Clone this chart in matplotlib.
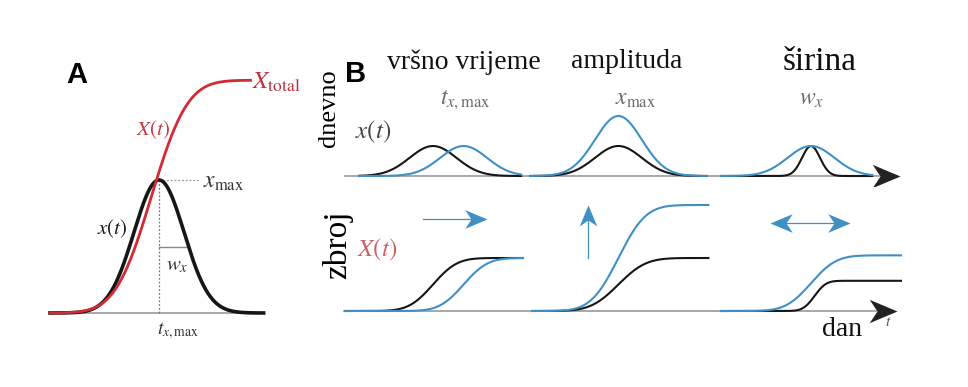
import numpy as np
import matplotlib
matplotlib.use("Agg")
import matplotlib.pyplot as plt
from matplotlib.path import Path

plt.rcParams['mathtext.fontset'] = 'stix'
plt.rcParams['font.family'] = ['Liberation Serif', 'DejaVu Serif']

# ---- data (time in days, heights in units of the black peak) ----
# panel A
a_peak_t = 50.0
a_sigma = 11.5
a_peak = 1.0
a_cum_mid = 46.5
a_cum_sigma = 13.0
a_total = 1.75
a_t_end = 98.0
a_red_end = 92.0

# panel B: columns = peak time, amplitude, width
col_names = ['vršno vrijeme', 'amplituda', 'širina']
col_symbols = [r'$t_{x,\mathrm{max}}$', r'$x_{\mathrm{max}}$', r'$w_x$']
col_offset = [0.0, 103.0, 210.0]

# daily curves x(t): black reference and blue changed curve
top_black_t = [50, 50, 50]
top_black_sigma = [13, 13, 5]
top_black_amp = [1.0, 1.0, 1.0]
top_blue_t = [67, 50, 50]
top_blue_sigma = [13, 13, 13]
top_blue_amp = [1.0, 2.0, 1.0]
top_span = [(9, 99), (1, 99), (0, 84)]

# cumulative curves X(t)
bot_black_t = [50, 50, 52]
bot_black_sigma = [10.5, 12, 5]
bot_black_total = [1.0, 1.0, 0.57]
bot_blue_t = [67, 50, 50]
bot_blue_sigma = [10.5, 12, 11]
bot_blue_total = [1.0, 2.0, 1.05]
bot_span = [(1, 100), (2, 100), (0, 100)]

RED = '#d42a35'
BLUE = '#4090c4'
BLACK = '#161616'
GRAY = '#9a9a9a'

W, H = 968, 387
fig = plt.figure(figsize=(W / 100, H / 100), dpi=100)
fig.patch.set_facecolor('white')


def gauss(t, mu, s, a):
    return a * np.exp(-0.5 * ((t - mu) / s) ** 2)


def cum(t, mu, s, a):
    from math import erf
    return a * 0.5 * (1 + np.array([erf(v) for v in (t - mu) / (s * np.sqrt(2))]))


def px_axes(box, x0, sx, y0, sy):
    # box in pixels (left, top, right, bottom); x0/y0 = pixel of data origin
    l, t, r, b = box
    ax = fig.add_axes([l / W, 1 - b / H, (r - l) / W, (b - t) / H])
    ax.set_xlim((l - x0) / sx, (r - x0) / sx)
    ax.set_ylim((y0 - b) / sy, (y0 - t) / sy)
    ax.axis('off')
    return ax


def ftext(x, y, s, **kw):
    kw.setdefault('ha', 'center')
    kw.setdefault('va', 'center')
    fig.text(x / W, 1 - y / H, s, **kw)


def head(angle):
    v = np.array([(0, 0), (-1, 0.42), (-0.72, 0), (-1, -0.42), (0, 0)])
    c, s = np.cos(np.radians(angle)), np.sin(np.radians(angle))
    v = v @ np.array([[c, s], [-s, c]])
    return Path(v, [Path.MOVETO, Path.LINETO, Path.LINETO, Path.LINETO, Path.CLOSEPOLY])


# ---------------- panel A ----------------
axA = px_axes((40, 50, 320, 345), 50, 2.18, 313, 133)
t = np.linspace(0, a_t_end, 400)
axA.plot([1, a_t_end], [0, 0], color=GRAY, lw=1.2, solid_capstyle='butt')
axA.plot([a_peak_t, a_peak_t], [0, a_peak], color='#777777', lw=0.9, ls=(0, (1.5, 1.5)))
axA.plot([a_peak_t, 69], [a_peak, a_peak], color='#999999', lw=0.9, ls=(0, (1.5, 1.5)))
hw = a_sigma * np.sqrt(2 * np.log(2))
axA.plot([a_peak_t, a_peak_t + hw], [0.5, 0.5], color='#888888', lw=1.0)
axA.plot(t, gauss(t, a_peak_t, a_sigma, a_peak), color=BLACK, lw=2.6)
tr = np.linspace(0, a_red_end, 400)
axA.plot(tr, cum(tr, a_cum_mid, a_cum_sigma, a_total), color=RED, lw=2.0)

ftext(77, 75, 'A', family='Liberation Sans', weight='bold', fontsize=21)
ftext(252, 82, r'$X_{\mathrm{total}}$', ha='left', color='#b8333b', fontsize=18)
ftext(153, 130, r'$X(t)$', color='#c93540', fontsize=15)
ftext(112, 229, r'$x(t)$', color=BLACK, fontsize=15)
ftext(203, 183, r'$x_{\mathrm{max}}$', ha='left', color='#333333', fontsize=17)
ftext(177, 266, r'$w_x$', color='#333333', fontsize=15)
ftext(178, 331, r'$t_{x,\mathrm{max}}$', color='#333333', fontsize=14)

# ---------------- panel B ----------------
axT = px_axes((330, 95, 920, 186), 343, 1.8, 176, 30)
axB = px_axes((330, 190, 920, 325), 343, 1.8, 311, 53)

for ax, tip in [(axT, 309.5), (axB, 308.0)]:
    ax.plot([1, tip - 12], [0, 0], color=GRAY, lw=1.2)
    ax.plot([tip], [0], marker=head(0), markersize=40, color='#222222', mew=0)

for i in range(3):
    off = col_offset[i]
    t0, t1 = top_span[i]
    t = np.linspace(t0, t1, 300)
    axT.plot(t + off, gauss(t, top_black_t[i], top_black_sigma[i], top_black_amp[i]), color=BLACK, lw=1.5)
    axT.plot(t + off, gauss(t, top_blue_t[i], top_blue_sigma[i], top_blue_amp[i]), color=BLUE, lw=1.5)
    t0, t1 = bot_span[i]
    t = np.linspace(t0, t1, 300)
    axB.plot(t + off, cum(t, bot_black_t[i], bot_black_sigma[i], bot_black_total[i]), color=BLACK, lw=1.5)
    axB.plot(t + off, cum(t, bot_blue_t[i], bot_blue_sigma[i], bot_blue_total[i]), color=BLUE, lw=1.5)

# blue change arrows
axB.plot([44.4, 78], [1.74, 1.74], color=BLUE, lw=0.9)
axB.plot([80], [1.74], marker=head(0), markersize=32, color=BLUE, mew=0)
axB.plot([136.1, 136.1], [1.0, 1.9], color=BLUE, lw=0.9)
axB.plot([136.1], [2.0], marker=head(90), markersize=30, color=BLUE, mew=0)
axB.plot([239, 280], [1.66, 1.66], color=BLUE, lw=0.9)
axB.plot([281.7], [1.66], marker=head(0), markersize=32, color=BLUE, mew=0)
axB.plot([237.2], [1.66], marker=head(180), markersize=32, color=BLUE, mew=0)

ftext(356, 74, 'B', family='Liberation Sans', weight='bold', fontsize=21)
ftext(329, 108, 'dnevno', rotation=90, fontsize=19)
ftext(338, 245, 'zbroj', rotation=90, fontsize=24)
title_x = [464, 627, 820]
title_size = [20, 20, 24]
sym_x = [465, 636, 812]
for i in range(3):
    ftext(title_x[i], 62, col_names[i], fontsize=title_size[i], color='#111111')
    ftext(sym_x[i], 100, col_symbols[i], fontsize=17, color='#6a6a6a')
ftext(373, 132, r'$x(t)$', fontsize=18, color='#444444')
ftext(377, 250, r'$X(t)$', fontsize=18, color='#c9606a')
ftext(842, 329, 'dan', fontsize=20, color='#111111')
ftext(888, 322, r'$t$', fontsize=11, color='#555555')

fig.savefig('out.png', dpi=100, facecolor='white')
